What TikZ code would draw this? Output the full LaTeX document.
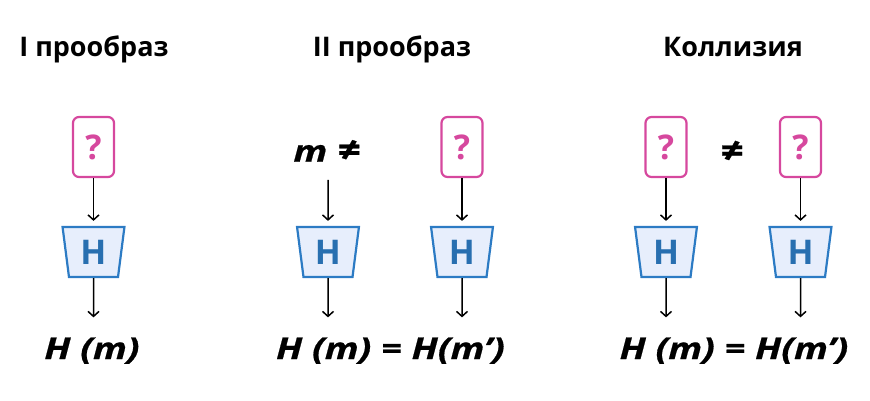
\documentclass[tikz,border=0pt]{standalone}
\usepackage{fontspec}
\setmainfont{Open Sans}
\newfontfamily\frmfont[FakeStretch=1.25,FakeBold=0.6]{Open Sans}
\usetikzlibrary{shapes.geometric,arrows.meta}
\definecolor{qpink}{RGB}{214,72,158}
\definecolor{hblue}{RGB}{44,123,196}
\definecolor{hfill}{RGB}{231,238,252}
\begin{document}
\begin{tikzpicture}[x=1pt,y=-1pt,
	ttl/.style={font=\bfseries\fontsize{27}{30}\selectfont, inner sep=0, anchor=base},
	qbox/.style={draw=qpink, line width=2.2pt, rounded corners=6pt, minimum width=41pt, minimum height=60pt, inner sep=0, text=qpink, font=\bfseries\fontsize{34}{38}\selectfont},
	hbox/.style={trapezium, shape border rotate=180, trapezium stretches=true, trapezium left angle=82, trapezium right angle=82, minimum width=62pt, minimum height=50pt, inner sep=0, draw=hblue, fill=hfill, line width=2.2pt, text=hblue!90!black, font=\bfseries\fontsize{34}{38}\selectfont},
	frm/.style={font=\frmfont\bfseries\itshape\fontsize{30}{34}\selectfont, inner sep=0, anchor=base},
	arr/.style={-{Straight Barb[length=5pt,width=11pt]}, line width=1.5pt, shorten >=5pt}]
	\useasboundingbox (0,0) rectangle (870,400);
	\node[ttl] (t1) at (94,56.5) {I прообраз};
	\node[ttl] (t2) at (392,56.5) {II прообраз};
	\node[ttl] (t3) at (733,56.5) {Коллизия};

	\node[qbox] (q1) at (93.5,147) {?};
	\node[hbox] (h1) at (93.5,252) {H};
	\node[frm] (f1) at (92,359) {H (m)};
	\draw[arr] (q1) -- (h1);
	\draw[arr, shorten >=20pt] (h1) -- (h1 |- f1.north);

	\node[frm] (m) at (327,161.7) {m {\fontsize{34}{38}\selectfont≠}};
	\node[qbox] (q2) at (462,147) {?};
	\node[hbox] (h2a) at (328,252) {H};
	\node[hbox] (h2b) at (462,252) {H};
	\node[frm] (f2) at (390.5,359) {H (m) = H(m’)};
	\draw[arr, shorten <=18pt] (m.south -| h2a) -- (h2a);
	\draw[arr] (q2) -- (h2b);
	\draw[arr, shorten >=20pt] (h2a) -- (h2a |- f2.north);
	\draw[arr, shorten >=20pt] (h2b) -- (h2b |- f2.north);

	\node[qbox] (q3a) at (666,147) {?};
	\node[frm, font=\frmfont\bfseries\itshape\fontsize{34}{38}\selectfont] (ne) at (731.7,162.5) {≠};
	\node[qbox] (q3b) at (800.5,147) {?};
	\node[hbox] (h3a) at (666,252) {H};
	\node[hbox] (h3b) at (800.5,252) {H};
	\node[frm] (f3) at (734,359) {H (m) = H(m’)};
	\draw[arr] (q3a) -- (h3a);
	\draw[arr] (q3b) -- (h3b);
	\draw[arr, shorten >=20pt] (h3a) -- (h3a |- f3.north);
	\draw[arr, shorten >=20pt] (h3b) -- (h3b |- f3.north);
\end{tikzpicture}
\end{document}
